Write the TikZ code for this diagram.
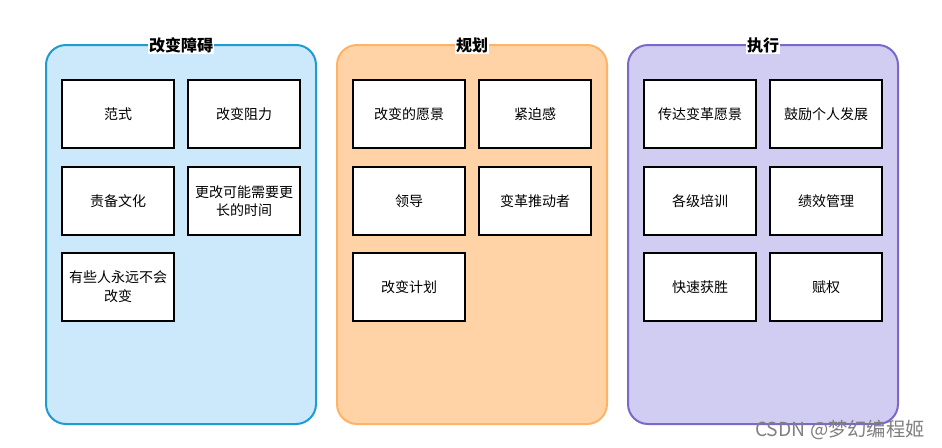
\documentclass[tikz,border=0pt]{standalone}
\usepackage{fontspec}
\newfontfamily\cjk{Noto Sans CJK SC}
\definecolor{blueFill}{HTML}{CCE8FB}
\definecolor{blueLine}{HTML}{1E9BD0}
\definecolor{orangeFill}{HTML}{FFD3A6}
\definecolor{orangeLine}{HTML}{FFB366}
\definecolor{purpleFill}{HTML}{D1CCF2}
\definecolor{purpleLine}{HTML}{7B68C8}

\begin{document}
\begin{tikzpicture}[x=0.75pt, y=-0.75pt]

% styles
\tikzstyle{panel}=[rounded corners=15pt, line width=1.5pt]
\tikzstyle{title}=[rectangle, fill=white, inner sep=1pt, text=black, font=\cjk\bfseries\fontsize{12}{14}\selectfont]
\tikzstyle{item}=[rectangle, draw, line width=1pt, fill=white, minimum width=84pt, minimum height=51pt, text width=82pt, align=center, inner sep=0pt, font=\cjk\fontsize{10.5}{14}\selectfont]
\tikzstyle{watermark}=[text=gray, font=\cjk\fontsize{14.5}{16}\selectfont]

\useasboundingbox (0,0) rectangle (942,447);

% panel 1
\draw[panel, fill=blueFill, draw=blueLine] (46,45) rectangle (316,424);
\node[title] (t1) at (181,45) {改变障碍};
\node[item] (b11) at (118,114) {范式};
\node[item] (b12) at (244,114) {改变阻力};
\node[item] (b13) at (118,201) {责备文化};
\node[item] (b14) at (244,201) {更改可能需要更\\长的时间};
\node[item] (b15) at (118,287) {有些人永远不会\\改变};

% panel 2
\draw[panel, fill=orangeFill, draw=orangeLine] (337,45) rectangle (607,424);
\node[title] (t2) at (472,45) {规划};
\node[item] (b21) at (409,114) {改变的愿景};
\node[item] (b22) at (535,114) {紧迫感};
\node[item] (b23) at (409,201) {领导};
\node[item] (b24) at (535,201) {变革推动者};
\node[item] (b25) at (409,287) {改变计划};

% panel 3
\draw[panel, fill=purpleFill, draw=purpleLine] (628,45) rectangle (898,424);
\node[title] (t3) at (763,45) {执行};
\node[item] (b31) at (700,114) {传达变革愿景};
\node[item] (b32) at (826,114) {鼓励个人发展};
\node[item] (b33) at (700,201) {各级培训};
\node[item] (b34) at (826,201) {绩效管理};
\node[item] (b35) at (700,287) {快速获胜};
\node[item] (b36) at (826,287) {赋权};

\node[watermark] (wm) at (840,430) {CSDN @梦幻编程姬};

\end{tikzpicture}
\end{document}
